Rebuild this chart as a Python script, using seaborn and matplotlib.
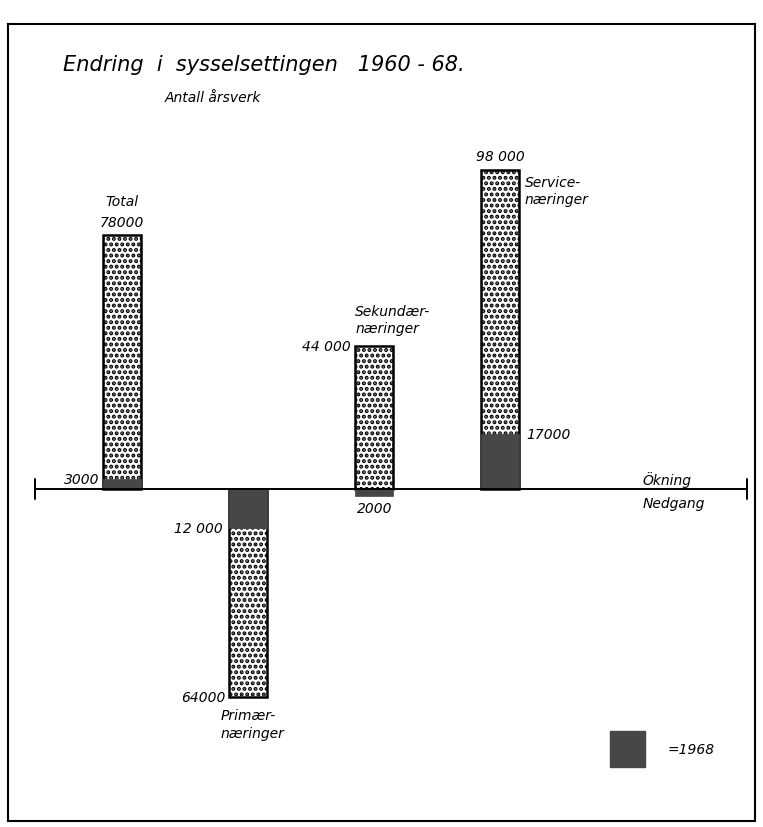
import pandas as pd
import matplotlib
matplotlib.use('Agg')
import matplotlib.pyplot as plt
import seaborn as sns

# Endring i sysselsettingen 1960-68, antall årsverk
categories = ['Total', 'Primær', 'Sekundær', 'Service']
change_total = [78000, -64000, 44000, 98000]
change_1968 = [3000, -12000, -2000, 17000]
total_labels = ['78000', '64000', '44 000', '98 000']
year_labels = ['3000', '12 000', '2000', '17000']

sns.set_theme(style='white')
plt.rcParams['font.family'] = ['DejaVu Sans']
plt.rcParams['font.style'] = 'italic'
plt.rcParams['text.color'] = 'black'
plt.rcParams['hatch.linewidth'] = 2.0
plt.rcParams['hatch.color'] = 'black'

df = pd.DataFrame({
    'kategori': categories,
    'total': [v / 1000 for v in change_total],
    'aar1968': [v / 1000 for v in change_1968],
})

fig = plt.figure(figsize=(7.63, 8.28), dpi=100)
ax = fig.add_axes([8 / 763, 6 / 828, 747 / 763, 797 / 828])

dark = '#474747'
sns.barplot(data=df, x='kategori', y='total', order=categories, width=0.3,
            color='white', edgecolor='black', linewidth=1.8, hatch='...',
            saturation=1, ax=ax)
sns.barplot(data=df, x='kategori', y='aar1968', order=categories, width=0.3,
            color=dark, edgecolor=dark, linewidth=0.5, saturation=1, ax=ax)

ax.set_xlim(-0.905, 5.02)
ax.set_ylim(-102, 143)
ax.set_xlabel('')
ax.set_ylabel('')
ax.set_xticks([])
ax.set_yticks([])
for s in ax.spines.values():
    s.set_color('black')
    s.set_linewidth(1.5)

# baseline with end ticks
x0, x1 = -0.69, 4.96
ax.plot([x0, x1], [0, 0], color='black', lw=1.4, zorder=5)
ax.plot([x0, x0], [-3, 3], color='black', lw=1.4)
ax.plot([x1, x1], [-3, 3], color='black', lw=1.4)

fs = 10
# Total
ax.annotate('Total', (0, df.total[0]), xytext=(0, 20), textcoords='offset points',
            ha='center', va='bottom', fontsize=fs)
ax.annotate(total_labels[0], (0, df.total[0]), xytext=(0, 5), textcoords='offset points',
            ha='center', va='bottom', fontsize=fs)
ax.annotate(year_labels[0], (-0.15, df.aar1968[0]), xytext=(-3, 0), textcoords='offset points',
            ha='right', va='center', fontsize=fs)
# Primær
ax.annotate(year_labels[1], (0.85, df.aar1968[1]), xytext=(-5, 0), textcoords='offset points',
            ha='right', va='center', fontsize=fs)
ax.annotate(total_labels[1], (0.85, df.total[1]), xytext=(-3, 0), textcoords='offset points',
            ha='right', va='center', fontsize=fs)
ax.annotate('Primær-\nnæringer', (0.78, df.total[1]), xytext=(0, -8), textcoords='offset points',
            ha='left', va='top', fontsize=fs, linespacing=1.3)
# Sekundær
ax.annotate('Sekundær-\nnæringer', (1.85, df.total[2]), xytext=(0, 8), textcoords='offset points',
            ha='left', va='bottom', fontsize=fs, linespacing=1.3)
ax.annotate(total_labels[2], (1.85, df.total[2]), xytext=(-3, 0), textcoords='offset points',
            ha='right', va='center', fontsize=fs)
ax.annotate(year_labels[2], (2, df.aar1968[2]), xytext=(0, -4), textcoords='offset points',
            ha='center', va='top', fontsize=fs)
# Service
ax.annotate(total_labels[3], (3, df.total[3]), xytext=(0, 5), textcoords='offset points',
            ha='center', va='bottom', fontsize=fs)
ax.annotate('Service-\nnæringer', (3.15, df.total[3]), xytext=(4, -3), textcoords='offset points',
            ha='left', va='top', fontsize=fs, linespacing=1.3)
ax.annotate(year_labels[3], (3.15, df.aar1968[3]), xytext=(5, 0), textcoords='offset points',
            ha='left', va='center', fontsize=fs)

ax.text(4.13, 0.8, 'Ökning', ha='left', va='bottom', fontsize=fs)
ax.annotate('Nedgang', (4.13, 0), xytext=(0, -5), textcoords='offset points',
            ha='left', va='top', fontsize=fs)

# legend square
fig.patches.append(plt.Rectangle((610 / 763, 1 - 768 / 828), 35 / 763, 36 / 828,
                                 transform=fig.transFigure, color=dark))
fig.text(668 / 763, 1 - 750 / 828, '=1968', ha='left', va='center', fontsize=fs)

fig.text(63 / 763, 1 - 65 / 828, 'Endring  i  sysselsettingen   1960 - 68.',
         ha='left', va='center', fontsize=15)
fig.text(165 / 763, 1 - 98 / 828, 'Antall årsverk', ha='left', va='center', fontsize=10)

fig.savefig('out.png', dpi=100, facecolor='white')
